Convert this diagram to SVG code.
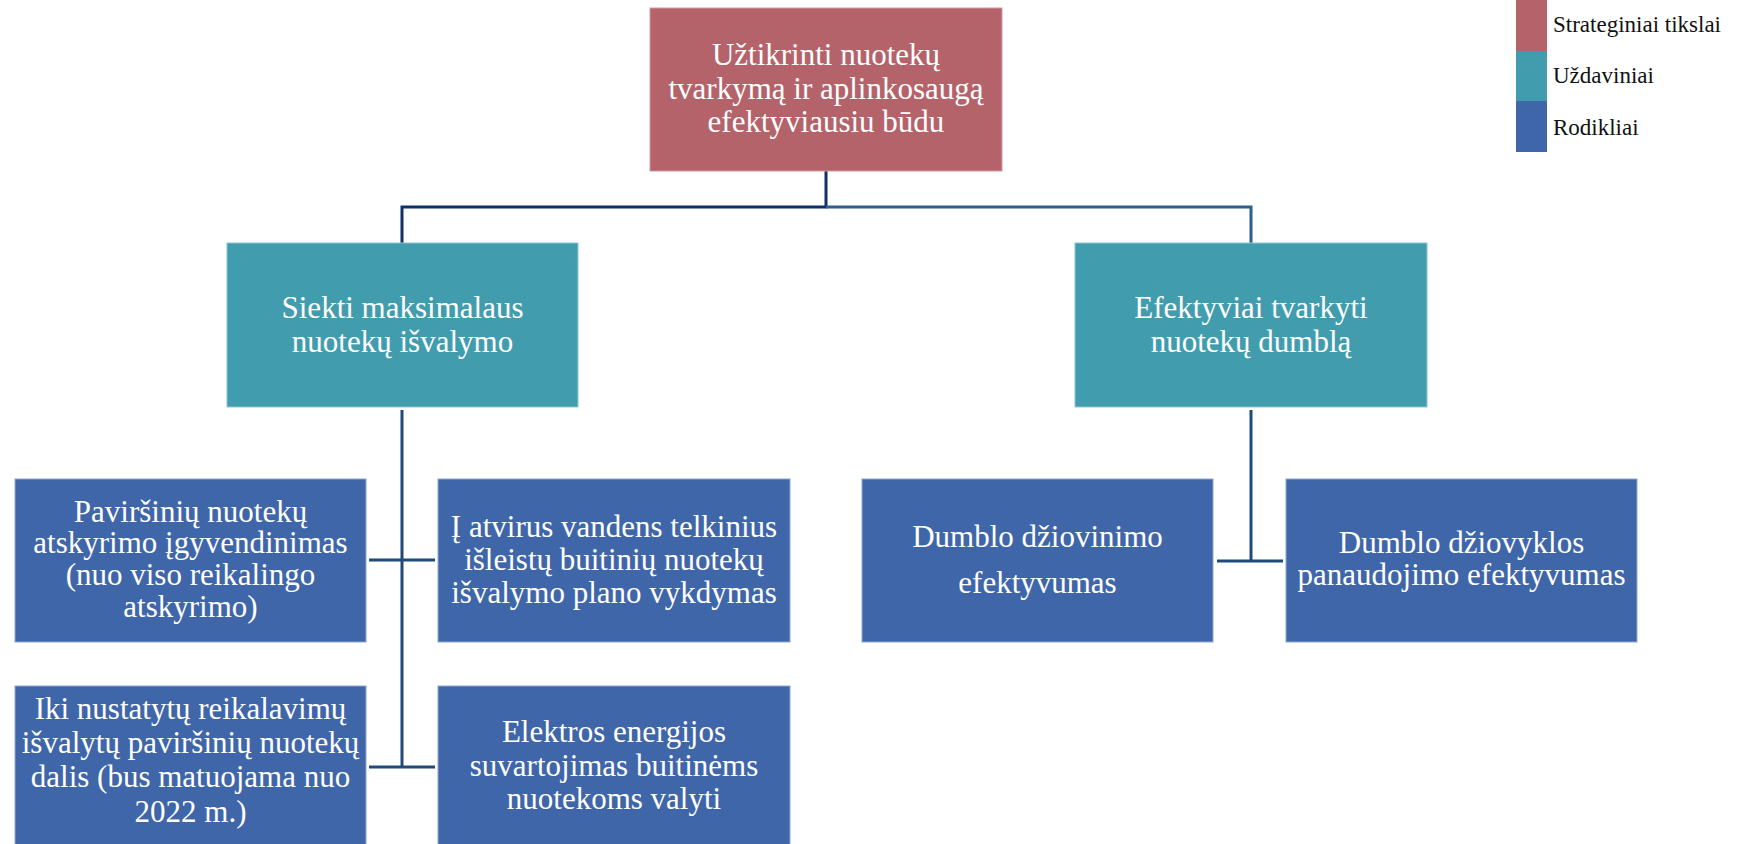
<svg xmlns="http://www.w3.org/2000/svg" width="1742" height="844" viewBox="0 0 1742 844">
<style>
.t{font-family:'Liberation Serif',serif;font-size:31px;fill:#ffffff;text-anchor:middle}
.lg{font-family:'Liberation Serif',serif;font-size:23px;fill:#111111}
.goal{fill:#B5636A;stroke:#D49A9F;stroke-width:1}
.task{fill:#419DAE;stroke:#8CC6D0;stroke-width:1}
.ind{fill:#4066AA;stroke:#8FA6D2;stroke-width:1}
.c{stroke:#1F4A7A;stroke-width:3;fill:none}
.cd{stroke:#10306C;stroke-width:3;fill:none}
.cs{stroke:#2D5F8E;stroke-width:3;fill:none}
</style>
<rect width="1742" height="844" fill="#ffffff"/>
<g id="connectors">
<path class="cd" d="M826 171 V207 H402 V243"/>
<path class="cs" d="M826 207 H1251 V243"/>
<path class="c" d="M402 410 V767"/>
<path class="c" d="M369 560 H435"/>
<path class="c" d="M369 767 H435"/>
<path class="c" d="M1251 410 V561"/>
<path class="c" d="M1217 561 H1283"/>
</g>
<g id="goal">
<rect class="goal" x="650" y="8" width="352" height="163"/>
<text class="t" x="826" y="65">Užtikrinti nuotekų</text>
<text class="t" x="826" y="99">tvarkymą ir aplinkosaugą</text>
<text class="t" x="826" y="132">efektyviausiu būdu</text>
</g>
<g id="task1">
<rect class="task" x="227" y="243" width="351" height="164"/>
<text class="t" x="402.5" y="318">Siekti maksimalaus</text>
<text class="t" x="402.5" y="352">nuotekų išvalymo</text>
</g>
<g id="task2">
<rect class="task" x="1075" y="243" width="352" height="164"/>
<text class="t" x="1251" y="318">Efektyviai tvarkyti</text>
<text class="t" x="1251" y="352">nuotekų dumblą</text>
</g>
<g id="ind1">
<rect class="ind" x="15" y="479" width="351" height="163"/>
<text class="t" x="190.5" y="522">Paviršinių nuotekų</text>
<text class="t" x="190.5" y="553">atskyrimo įgyvendinimas</text>
<text class="t" x="190.5" y="585">(nuo viso reikalingo</text>
<text class="t" x="190.5" y="617">atskyrimo)</text>
</g>
<g id="ind2">
<rect class="ind" x="438" y="479" width="352" height="163"/>
<text class="t" x="614" y="537">Į atvirus vandens telkinius</text>
<text class="t" x="614" y="570">išleistų buitinių nuotekų</text>
<text class="t" x="614" y="603">išvalymo plano vykdymas</text>
</g>
<g id="ind3">
<rect class="ind" x="15" y="686" width="351" height="164"/>
<text class="t" x="190.5" y="719">Iki nustatytų reikalavimų</text>
<text class="t" x="190.5" y="753">išvalytų paviršinių nuotekų</text>
<text class="t" x="190.5" y="787">dalis (bus matuojama nuo</text>
<text class="t" x="190.5" y="822">2022 m.)</text>
</g>
<g id="ind4">
<rect class="ind" x="438" y="686" width="352" height="164"/>
<text class="t" x="614" y="742">Elektros energijos</text>
<text class="t" x="614" y="776">suvartojimas buitinėms</text>
<text class="t" x="614" y="809">nuotekoms valyti</text>
</g>
<g id="ind5">
<rect class="ind" x="862" y="479" width="351" height="163"/>
<text class="t" x="1037.5" y="547">Dumblo džiovinimo</text>
<text class="t" x="1037.5" y="593">efektyvumas</text>
</g>
<g id="ind6">
<rect class="ind" x="1286" y="479" width="351" height="163"/>
<text class="t" x="1461.5" y="553">Dumblo džiovyklos</text>
<text class="t" x="1461.5" y="585">panaudojimo efektyvumas</text>
</g>
<g id="legend">
<rect x="1516" y="0" width="31" height="51" fill="#B5636A"/>
<rect x="1516" y="51" width="31" height="50" fill="#419DAE"/>
<rect x="1516" y="101" width="31" height="51" fill="#4066AA"/>
<text class="lg" x="1553" y="32">Strateginiai tikslai</text>
<text class="lg" x="1553" y="83">Uždaviniai</text>
<text class="lg" x="1553" y="135">Rodikliai</text>
</g>
</svg>
